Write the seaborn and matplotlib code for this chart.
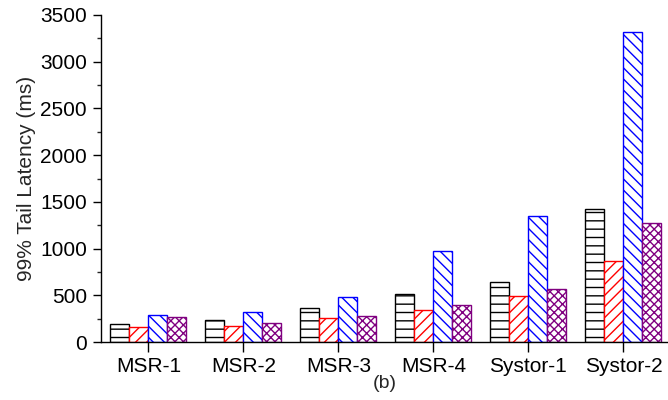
import matplotlib
matplotlib.use("Agg")
import matplotlib.pyplot as plt
import seaborn as sns
import pandas as pd
from matplotlib.ticker import MultipleLocator

categories = ["MSR-1", "MSR-2", "MSR-3", "MSR-4", "Systor-1", "Systor-2"]
series_names = ["Scheme A", "Scheme B", "Scheme C", "Scheme D"]
scheme_a = [190, 235, 364, 510, 639, 1423]
scheme_b = [165, 176, 257, 342, 489, 864]
scheme_c = [293, 318, 478, 974, 1352, 3317]
scheme_d = [272, 208, 281, 392, 567, 1270]
edge_colors = ["#000000", "#ff0000", "#0000ff", "#800080"]
hatches = ["--", "///", "\\\\\\", "xxxx"]

rows = []
for name, vals in zip(series_names, [scheme_a, scheme_b, scheme_c, scheme_d]):
    for c, v in zip(categories, vals):
        rows.append({"trace": c, "scheme": name, "latency": v})
df = pd.DataFrame(rows)

sns.set_style("ticks")
plt.rcParams["font.family"] = ["Liberation Sans", "DejaVu Sans"]
plt.rcParams["hatch.linewidth"] = 1.0

fig = plt.figure(figsize=(6.68, 4.0), dpi=100)
ax = fig.add_axes([101/668, 1 - 342/400, (668 - 101)/668, (342 - 15)/400])

sns.barplot(data=df, x="trace", y="latency", hue="scheme", order=categories,
            hue_order=series_names, width=0.8, ax=ax, legend=False,
            errorbar=None, palette=["white"] * 4, saturation=1)

for cont, ec, h in zip(ax.containers, edge_colors, hatches):
    for bar in cont:
        bar.set_facecolor("white")
        bar.set_edgecolor(ec)
        bar.set_hatch(h)
        bar.set_linewidth(1.0)

ax.set_xlim(-0.5, 5.47)
ax.set_ylim(0, 3500)
ax.yaxis.set_major_locator(MultipleLocator(500))
ax.yaxis.set_minor_locator(MultipleLocator(250))
ax.tick_params(axis="both", which="major", direction="out", length=6, width=1.0,
               labelsize=15, colors="black")
ax.tick_params(axis="x", which="major", length=7, pad=4)
ax.tick_params(axis="y", which="major", pad=4)
ax.tick_params(axis="y", which="minor", direction="out", length=3, width=1.0)
ax.tick_params(axis="x", which="minor", bottom=False)

ax.set_ylabel("99% Tail Latency (ms)", fontsize=15, labelpad=3)
ax.set_xlabel("(b)", fontsize=14, labelpad=-1)

for s in ["top", "right"]:
    ax.spines[s].set_visible(False)
for s in ["left", "bottom"]:
    ax.spines[s].set_linewidth(1.0)
    ax.spines[s].set_color("black")

fig.savefig("out.png", dpi=100)
